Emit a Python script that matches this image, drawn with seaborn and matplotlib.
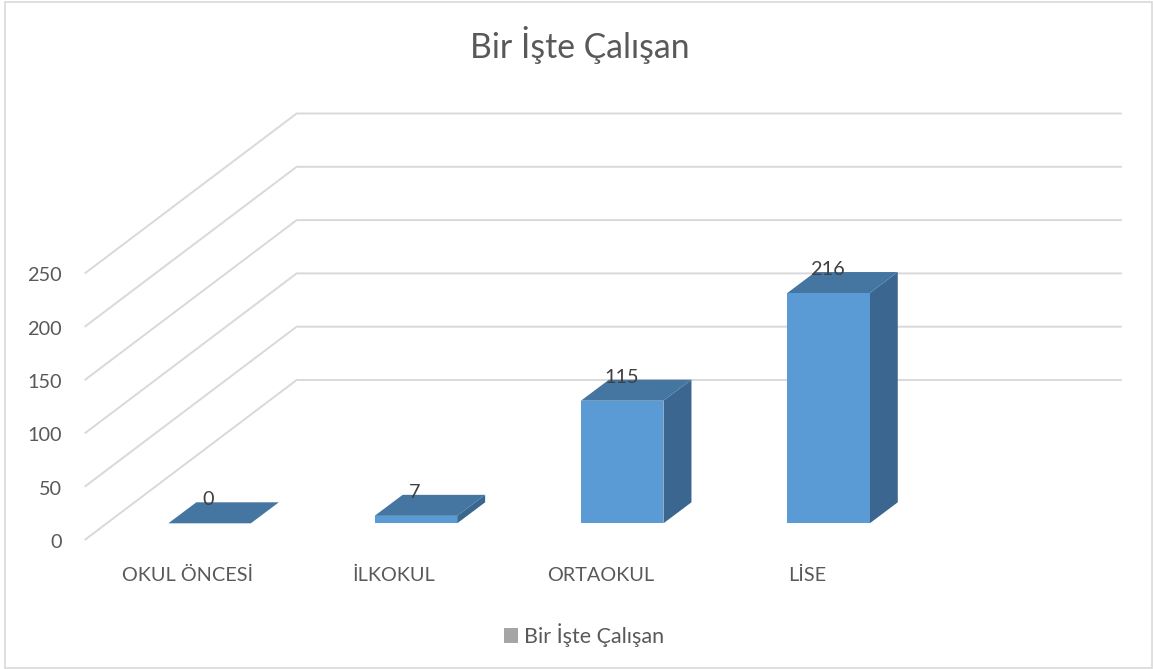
import matplotlib
matplotlib.use("Agg")
import matplotlib.pyplot as plt
import numpy as np
import pandas as pd
import seaborn as sns
from matplotlib.patches import Polygon, Rectangle, Patch

# --- data -------------------------------------------------------------
categories = ["OKUL ÖNCESİ", "İLKOKUL", "ORTAOKUL", "LİSE"]
values = [0, 7, 115, 216]
series_name = "Bir İşte Çalışan"
y_ticks = [0, 50, 100, 150, 200, 250]

# --- style ------------------------------------------------------------
FRONT = "#5B9BD5"
TOP = "#4575A1"
SIDE = "#3A6690"
GRID = "#D9D9D9"
TEXT = "#595959"
LABEL = "#404040"
LEGEND_SWATCH = "#A5A5A5"

sns.set_theme(style="white")
plt.rcParams["font.family"] = ["Lato", "DejaVu Sans"]

W, H = 1153, 669
fig = plt.figure(figsize=(W / 100, H / 100), dpi=100)
ax = fig.add_axes([0, 0, 1, 1])

# pixel scale of the data plane holding the bar fronts
px_cat, px_val = 206.3, 1.066
org_x, org_y = 209.6, 523.3

# oblique depth vectors (data units)
full_dx, full_dy = 212 / px_cat, 160 / px_val      # floor front -> back wall
front_dx, front_dy = -21.8 / px_cat, -16.7 / px_val  # bar plane -> floor front
bar_dx, bar_dy = 28 / px_cat, 21 / px_val          # bar thickness

df = pd.DataFrame({"Eğitim": categories, "Sayı": values})
sns.barplot(data=df, x="Eğitim", y="Sayı", color=FRONT, saturation=1,
            width=0.4, linewidth=0, ax=ax, zorder=3)
fronts = list(ax.patches)

ax.set_xlim(-org_x / px_cat, (W - org_x) / px_cat)
ax.set_ylim((org_y - H) / px_val, org_y / px_val)
ax.axis("off")

# side wall + back wall gridlines
n = len(categories)
xl = -0.5 + front_dx
xr = n - 0.5 + front_dx
for v in y_ticks:
    y0 = v + front_dy
    ax.plot([xl, xl + full_dx, xr + full_dx], [y0, y0 + full_dy, y0 + full_dy],
            color=GRID, lw=1.4, zorder=1, solid_joinstyle="miter",
            solid_capstyle="butt")
    ax.annotate(f"{v}", xy=(xl, y0), xytext=(-23, -8), textcoords="offset pixels",
                ha="right", va="baseline", fontsize=14.3, color=TEXT)

# top and side faces of each bar, plus value labels
for patch, v in zip(fronts, values):
    x0 = patch.get_x()
    x1 = x0 + patch.get_width()
    h = patch.get_height()
    ax.add_patch(Polygon([(x0, h), (x1, h), (x1 + bar_dx, h + bar_dy), (x0 + bar_dx, h + bar_dy)],
                         closed=True, facecolor=TOP, edgecolor="none", zorder=2.6))
    ax.add_patch(Polygon([(x1, 0), (x1, h), (x1 + bar_dx, h + bar_dy), (x1 + bar_dx, bar_dy)],
                         closed=True, facecolor=SIDE, edgecolor="none", zorder=2.5))
    ax.annotate(f"{v}", xy=((x0 + x1) / 2, h), xytext=(-1, 18), textcoords="offset pixels",
                ha="center", va="baseline", fontsize=14.3, color=LABEL, zorder=5)

# category labels along the floor front edge
for i, cat in enumerate(categories):
    ax.annotate(cat, xy=(i + front_dx, front_dy), xytext=(0, -41), textcoords="offset pixels",
                ha="center", va="baseline", fontsize=14.3, color=TEXT)

# title
fig.text(580 / W, (H - 58.3) / H, series_name, ha="center", va="baseline",
         fontsize=24.3, color=TEXT)

# legend
ax.legend(handles=[Patch(facecolor=LEGEND_SWATCH, edgecolor="none", label=series_name)],
          loc="center", bbox_to_anchor=(584.5 / W, (H - 635) / H),
          bbox_transform=fig.transFigure, frameon=False, fontsize=15.5,
          handlelength=0.65, handleheight=0.65, handletextpad=0.28, borderpad=0,
          labelcolor=TEXT)

# chart area border
fig.patches.append(Rectangle((4.5 / W, 1 / H), (1151.5 - 4.5) / W, (667.5 - 1) / H,
                             transform=fig.transFigure, fill=False,
                             edgecolor=GRID, lw=1.2))

fig.savefig("out.png", dpi=100)
